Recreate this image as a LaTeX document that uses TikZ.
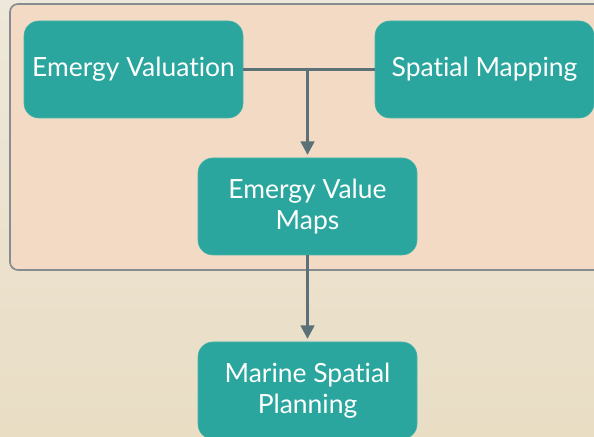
\documentclass[tikz,border=0pt]{standalone}
\usepackage{fontspec}
\setmainfont{Lato}[Ligatures={NoCommon}]
\usetikzlibrary{arrows.meta, positioning, calc}
\definecolor{TealBox}{RGB}{43,166,158}
\definecolor{TealEdge}{RGB}{70,180,170}
\definecolor{PeachPanel}{RGB}{242,218,196}
\definecolor{PanelEdge}{RGB}{135,140,142}
\definecolor{SlateLine}{RGB}{92,112,120}
\definecolor{BeigeTop}{RGB}{238,232,218}
\definecolor{BeigeBot}{RGB}{233,221,196}

\begin{document}
\begin{tikzpicture}[
    box/.style={draw=TealEdge,fill=TealBox,rounded corners=0.37cm,
               text=white,align=center,
               font=\fontsize{18.8}{22}\selectfont,
               minimum width=5.475cm,minimum height=2.425cm,
               inner sep=2pt},
    lnk/.style={draw=SlateLine,line width=2.1pt},
    arr/.style={-{Triangle[length=0.34cm,width=0.34cm]},draw=SlateLine,
               line width=2.1pt,shorten >=2pt}
  ]
    \useasboundingbox (0,0) rectangle (14.85,10.925);
    \clip (0,0) rectangle (14.85,10.925);
    % background and panel
    \shade[top color=BeigeTop,bottom color=BeigeBot] (0,0) rectangle (14.85,10.925);
    \draw[draw=PanelEdge,fill=PeachPanel,line width=1.2pt,rounded corners=0.2cm]
      (0.25,4.175) rectangle (15.2,10.825);
    % nodes
    \node[box] (ev)  at (3.3375,9.1875)  {Emergy Valuation};
    \node[box] (sm)  at (12.1125,9.1875) {Spatial Mapping};
    \node[box] (evm) at (7.6875,5.7625)  {Emergy Value\\Maps};
    \node[box] (msp) at (7.6875,1.1625)  {Marine Spatial\\Planning};
    % connectors
    \coordinate (jn) at (ev.east -| evm.north);
    \draw[lnk] (ev.east)--(sm.west);
    \draw[arr] (jn)--(evm.north);
    \draw[arr] (evm.south)--(msp.north);
  \end{tikzpicture}
\end{document}
